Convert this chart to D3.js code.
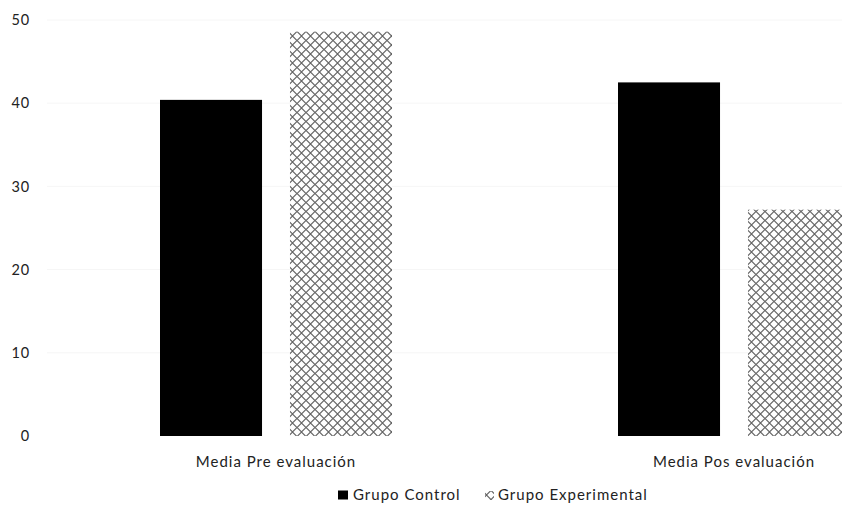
<!DOCTYPE html>
<html><head><meta charset="utf-8">
<script src="https://cdn.jsdelivr.net/npm/d3@7"></script>
<style>body{margin:0;background:#fff}svg{display:block}text{font-family:Lato,"Open Sans",sans-serif;fill:#222}</style>
</head><body><svg id="c" width="842" height="506"></svg>
<script>
const categories = ["Media Pre evaluación", "Media Pos evaluación"];
const seriesNames = ["Grupo Control", "Grupo Experimental"];
const control = [40.4, 42.5];
const experimental = [48.6, 27.2];
const yTicks = [0, 10, 20, 30, 40, 50];

const FONT = "Lato,'Open Sans',sans-serif";
const svg = d3.select("#c");
const defs = svg.append("defs");
const pat = defs.append("pattern").attr("id", "lattice")
  .attr("patternUnits", "userSpaceOnUse").attr("width", 9).attr("height", 9);
pat.append("rect").attr("width", 9).attr("height", 9).attr("fill", "#fff");
pat.append("path").attr("d", "M0,4.5 L4.5,0 L9,4.5 L4.5,9 Z")
  .attr("fill", "none").attr("stroke", "#666").attr("stroke-width", 1.1);

const y = d3.scaleLinear().domain([0, 50]).range([436, 20]);
const x0 = d3.scaleBand().domain(categories).range([47, 963]);
const x1 = d3.scaleBand().domain(seriesNames).range([113, 345]).paddingInner(0.215);
const fills = ["#000", "url(#lattice)"];

// faint horizontal gridlines
svg.append("g").selectAll("line").data(yTicks.filter(d => d > 0)).join("line")
  .attr("x1", 47).attr("x2", 842).attr("y1", d => y(d)).attr("y2", d => y(d))
  .attr("stroke", "#f6f6f6").attr("stroke-width", 1);

// y axis labels
const yAxis = d3.axisLeft(y).tickValues(yTicks).tickSize(0).tickPadding(0);
const ga = svg.append("g").attr("transform", "translate(30,0)").call(yAxis);
ga.select(".domain").remove();
ga.selectAll("text").attr("font-size", 14.5).attr("text-anchor", "end")
  .attr("letter-spacing", 0.8).attr("font-family", FONT).attr("fill", "#222");

// bars
const rows = categories.map((c, i) => ({c, vals: [control[i], experimental[i]]}));
const g = svg.append("g");
rows.forEach(r => {
  r.vals.forEach((v, j) => {
    g.append("rect")
      .attr("x", x0(r.c) + x1(seriesNames[j]))
      .attr("width", x1.bandwidth())
      .attr("y", y(v)).attr("height", y(0) - y(v))
      .attr("fill", fills[j]);
  });
});

// category labels
const xAxis = d3.axisBottom(x0).tickSize(0).tickPadding(0);
const gx = svg.append("g").attr("transform", "translate(0,456)").call(xAxis);
gx.select(".domain").remove();
gx.selectAll("text").attr("font-size", 15).attr("dy", "0.7em").attr("letter-spacing", 1)
  .attr("font-family", FONT).attr("fill", "#222");

// legend
const leg = svg.append("g").attr("transform", "translate(338,495)");
leg.append("rect").attr("x", 0).attr("y", -4.5).attr("width", 10).attr("height", 9).attr("fill", fills[0]);
leg.append("text").attr("x", 15).attr("y", 0).attr("dy", "0.35em").attr("font-size", 15)
  .attr("letter-spacing", 1).text(seriesNames[0]);
leg.append("rect").attr("x", 147).attr("y", -4).attr("width", 9).attr("height", 9).attr("fill", fills[1]);
leg.append("text").attr("x", 160).attr("y", 0).attr("dy", "0.35em").attr("font-size", 15)
  .attr("letter-spacing", 1).text(seriesNames[1]);
</script></body></html>
